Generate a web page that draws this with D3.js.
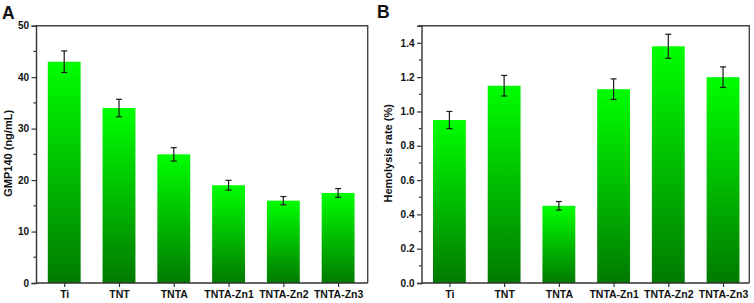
<!DOCTYPE html>
<html>
<head>
<meta charset="utf-8">
<script src="https://cdn.jsdelivr.net/npm/d3@7"></script>
<style>
  html, body { margin: 0; padding: 0; background: #fff; }
  svg { display: block; }
  text { font-family: "Liberation Sans", Arial, sans-serif; font-weight: bold; fill: #111; }
</style>
</head>
<body>
<svg id="chart" width="754" height="303"></svg>
<script>
// ---- Data ----
const categories = ["Ti", "TNT", "TNTA", "TNTA-Zn1", "TNTA-Zn2", "TNTA-Zn3"];
const gmpValues = [43, 34, 25, 19, 16, 17.5];
const gmpErrors = [2.1, 1.7, 1.3, 0.95, 0.8, 0.85];
const hemoValues = [0.95, 1.15, 0.45, 1.13, 1.38, 1.2];
const hemoErrors = [0.05, 0.06, 0.025, 0.06, 0.07, 0.06];
const gmpTicks = [0, 10, 20, 30, 40, 50];
const hemoTicks = [0.0, 0.2, 0.4, 0.6, 0.8, 1.0, 1.2, 1.4];

const svg = d3.select("#chart");
const defs = svg.append("defs");
const grad = defs.append("linearGradient").attr("id", "barGrad")
  .attr("x1", 0).attr("y1", 0).attr("x2", 0).attr("y2", 1);
grad.append("stop").attr("offset", "0%").attr("stop-color", "#00ff00");
grad.append("stop").attr("offset", "100%").attr("stop-color", "#007a00");

function panel(opts) {
  const { left, right, top, bottom, xDomain, yMax, values, errors, ticks, minorStep, fmt,
          ylabel, ylabelX, letter, letterX, letterY } = opts;
  const g = svg.append("g");
  const x = d3.scaleLinear().domain(xDomain).range([left, right]);
  const y = d3.scaleLinear().domain([0, yMax]).range([bottom, top]);
  const bw = (x(2) - x(1)) * 0.6;

  // bars
  g.selectAll("rect.bar").data(values).join("rect")
    .attr("class", "bar")
    .attr("x", (d, i) => x(i + 1) - bw / 2)
    .attr("width", bw)
    .attr("y", d => y(d))
    .attr("height", d => y(0) - y(d))
    .attr("fill", "url(#barGrad)");

  // error bars
  const eb = g.selectAll("g.err").data(values).join("g").attr("class", "err");
  const cap = 3;
  eb.append("line")
    .attr("x1", (d, i) => x(i + 1)).attr("x2", (d, i) => x(i + 1))
    .attr("y1", (d, i) => y(d - errors[i])).attr("y2", (d, i) => y(d + errors[i]));
  eb.append("line")
    .attr("x1", (d, i) => x(i + 1) - cap).attr("x2", (d, i) => x(i + 1) + cap)
    .attr("y1", (d, i) => y(d + errors[i])).attr("y2", (d, i) => y(d + errors[i]));
  eb.append("line")
    .attr("x1", (d, i) => x(i + 1) - cap).attr("x2", (d, i) => x(i + 1) + cap)
    .attr("y1", (d, i) => y(d - errors[i])).attr("y2", (d, i) => y(d - errors[i]));
  eb.selectAll("line").attr("stroke", "#1a1a1a").attr("stroke-width", 1.2);

  // frame (top & right)
  g.append("path")
    .attr("d", `M${left},${top}H${right}V${bottom}`)
    .attr("fill", "none").attr("stroke", "#444").attr("stroke-width", 1.4);

  // y axis
  const yAxis = d3.axisLeft(y).tickValues(ticks).tickFormat(fmt).tickSize(4.5).tickPadding(2.5);
  const ya = g.append("g").attr("transform", `translate(${left},0)`).call(yAxis);
  // minor ticks
  const minors = d3.range(minorStep, yMax + 1e-9, minorStep * 2);
  ya.selectAll("line.minor").data(minors).join("line").attr("class", "minor")
    .attr("x1", 0).attr("x2", -2.5).attr("y1", d => y(d)).attr("y2", d => y(d))
    .attr("stroke", "#333").attr("stroke-width", 1.2);

  // x axis
  const xAxis = d3.axisBottom(x).tickValues(d3.range(1, categories.length + 1))
    .tickFormat(d => categories[d - 1]).tickSize(4).tickPadding(3.5);
  const xa = g.append("g").attr("transform", `translate(0,${bottom})`).call(xAxis);
  xa.select(".domain").attr("d", `M${left},0H${right}`);

  [ya, xa].forEach(a => {
    a.select(".domain").attr("stroke", "#333").attr("stroke-width", 1.4);
    a.selectAll(".tick line").attr("stroke", "#333").attr("stroke-width", 1.2);
    a.selectAll(".tick text").style("font-size", "10px").attr("fill", "#111");
  });
  xa.selectAll(".tick text").style("font-size", "10.5px");

  // y label
  g.append("text")
    .attr("transform", `translate(${ylabelX},${(top + bottom) / 2 - 1}) rotate(-90)`)
    .attr("text-anchor", "middle")
    .style("font-size", "11px")
    .text(ylabel);

  // panel letter
  g.append("text").attr("x", letterX).attr("y", letterY)
    .style("font-size", "17.5px").text(letter);
}

panel({
  left: 36, right: 367.7, top: 25.7, bottom: 283,
  xDomain: [0.485, 6.54], yMax: 50, values: gmpValues, errors: gmpErrors,
  ticks: gmpTicks, minorStep: 5, fmt: d3.format("d"),
  ylabel: "GMP140 (ng/mL)", ylabelX: 12, letter: "A", letterX: 2, letterY: 18.5
});

panel({
  left: 421.5, right: 749.3, top: 25.7, bottom: 283,
  xDomain: [0.49, 6.48], yMax: 1.5, values: hemoValues, errors: hemoErrors,
  ticks: hemoTicks, minorStep: 0.1, fmt: d3.format(".1f"),
  ylabel: "Hemolysis rate (%)", ylabelX: 392, letter: "B", letterX: 377, letterY: 18
});
</script>
</body>
</html>
